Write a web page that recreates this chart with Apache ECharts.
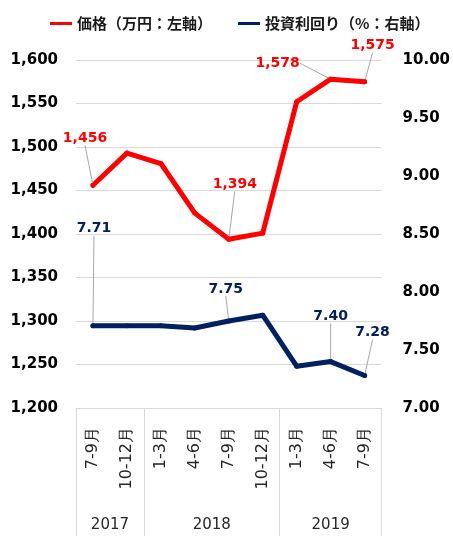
<!DOCTYPE html>
<html><head><meta charset="utf-8">
<script src="https://cdn.jsdelivr.net/npm/echarts@6/dist/echarts.min.js"></script>
<style>html,body{margin:0;padding:0;background:#fff}#c{width:453px;height:536px}</style>
</head><body><div id="c"></div>
<script>
// ---- data ----
const quarters = ['7-9月','10-12月','1-3月','4-6月','7-9月','10-12月','1-3月','4-6月','7-9月'];
const years = ['2017','2018','2019'];
const yearSpans = [2, 4, 3];
const priceValues = [1456, 1493, 1481, 1424, 1394, 1401, 1552, 1578, 1575];
const yieldValues = [7.71, 7.71, 7.71, 7.69, 7.75, 7.80, 7.36, 7.40, 7.28];
const priceLabeled = [0, 4, 7, 8];
const yieldLabeled = [0, 4, 7, 8];
const priceName = '価格（万円：左軸）';
const yieldName = '投資利回り（%：右軸）';

// ---- label offsets (style) ----
const priceOffsets = {0: [-8, -47], 4: [6, -55], 7: [-53, -16], 8: [8, -36]};
const yieldOffsets = {0: [1, -97], 4: [-3, -32], 7: [0, -45], 8: [8, -43]};

// year axis on half-category grid with boundaryGap false
const yearAxisData = [];
const yearLabelIdx = [];
const dividerIdx = [0];
let pos = 0;
for (let y = 0; y < years.length; y++) {
  const start = pos * 2, end = (pos + yearSpans[y]) * 2;
  yearLabelIdx.push((start + end) / 2);
  dividerIdx.push(end);
  pos += yearSpans[y];
}
for (let i = 0; i <= pos * 2; i++) {
  const k = yearLabelIdx.indexOf(i);
  yearAxisData.push(k >= 0 ? years[k] : '');
}

const FONT = 'DejaVu Sans';
const lblBase = {fontFamily: FONT, fontWeight: 'bold', fontSize: 14, position: 'inside'};

function buildData(vals, labeled, color, fmt) {
  return vals.map((v, i) => labeled.includes(i) ? {
    value: v,
    label: Object.assign({show: true, color: color, formatter: fmt}, lblBase),
    labelLine: {show: true, lineStyle: {color: '#a6a6a6', width: 1}}
  } : v);
}

const chart = echarts.init(document.getElementById('c'), null, {renderer: 'canvas'});
chart.setOption({
  animation: false,
  legend: {
    left: 45, top: 11, itemGap: 26,
    icon: 'rect', itemWidth: 22, itemHeight: 3,
    textStyle: {fontFamily: 'Noto Sans CJK JP', fontWeight: 'bold', fontSize: 15, color: '#1a1a1a'},
    data: [priceName, yieldName]
  },
  grid: {left: 76, right: 71, top: 60, bottom: 128, containLabel: false},
  xAxis: [{
    type: 'category', data: quarters, boundaryGap: true, position: 'bottom',
    axisLine: {show: true, lineStyle: {color: '#d9d9d9', width: 1}},
    axisTick: {show: false},
    axisLabel: {rotate: 90, margin: 19, fontFamily: FONT, fontSize: 16, color: '#262626', interval: 0}
  }, {
    type: 'category', data: yearAxisData, boundaryGap: false, position: 'bottom', offset: 0,
    axisLine: {show: false},
    axisTick: {show: true, length: 130, lineStyle: {color: '#d9d9d9', width: 1},
      interval: (idx) => dividerIdx.includes(idx)},
    axisLabel: {margin: 110, fontFamily: FONT, fontSize: 15, color: '#262626',
      interval: (idx) => yearLabelIdx.includes(idx)}
  }],
  yAxis: [{
    type: 'value', min: 1200, max: 1600, interval: 50, position: 'left',
    axisLine: {show: false}, axisTick: {show: false},
    splitLine: {lineStyle: {color: '#d9d9d9', width: 1}},
    axisLabel: {margin: 18, fontFamily: FONT, fontWeight: 'bold', fontSize: 15, color: '#000',
      formatter: v => v.toLocaleString('en-US')}
  }, {
    type: 'value', min: 7, max: 10, interval: 0.5, position: 'right',
    axisLine: {show: false}, axisTick: {show: false}, splitLine: {show: false},
    axisLabel: {margin: 21, fontFamily: FONT, fontWeight: 'bold', fontSize: 15, color: '#000',
      formatter: v => v.toFixed(2)}
  }],
  series: [{
    name: priceName, type: 'line', yAxisIndex: 0, xAxisIndex: 0,
    data: buildData(priceValues, priceLabeled, '#ff0000', p => p.value.toLocaleString('en-US')),
    color: '#ff0000',
    lineStyle: {width: 5, color: '#ff0000', cap: 'round', join: 'round'},
    symbol: 'circle', symbolSize: 5, itemStyle: {color: '#ff0000'},
    label: {show: false},
    labelLayout: p => { const o = priceOffsets[p.dataIndex]; return o ? {dx: o[0], dy: o[1]} : {}; }
  }, {
    name: yieldName, type: 'line', yAxisIndex: 1, xAxisIndex: 0,
    data: buildData(yieldValues, yieldLabeled, '#002060', p => p.value.toFixed(2)),
    color: '#002060',
    lineStyle: {width: 5, color: '#002060', cap: 'round', join: 'round'},
    symbol: 'circle', symbolSize: 5, itemStyle: {color: '#002060'},
    label: {show: false},
    labelLayout: p => { const o = yieldOffsets[p.dataIndex]; return o ? {dx: o[0], dy: o[1]} : {}; }
  }]
});
</script></body></html>
